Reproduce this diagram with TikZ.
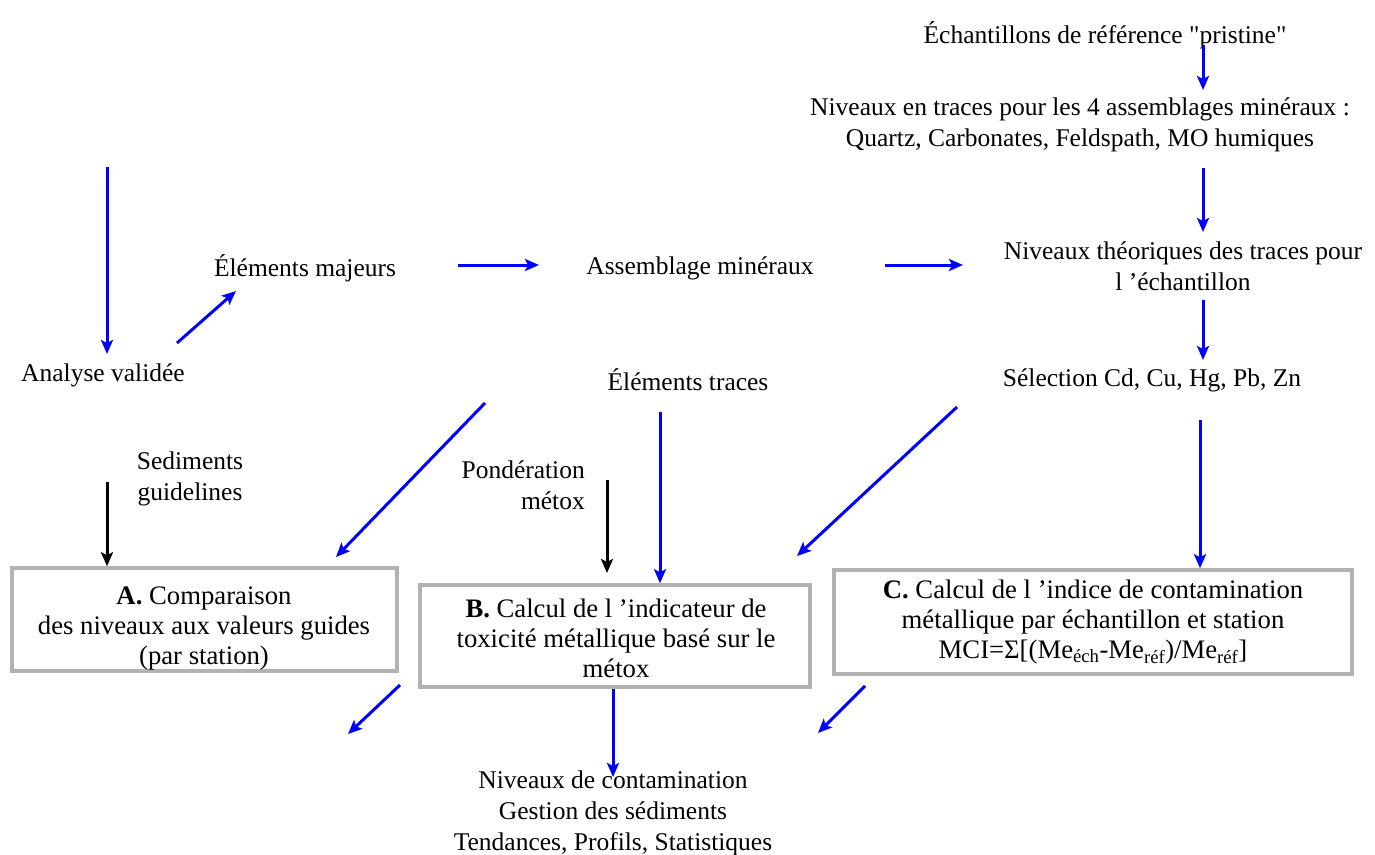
\documentclass[tikz,border=0pt]{standalone}
\usepackage{fontspec}
\setmainfont{Liberation Serif}[Ligatures=TeXOff]
\usetikzlibrary{arrows.meta}
\definecolor{boxgray}{RGB}{178,178,178}
\definecolor{flowblue}{RGB}{0,0,255}
\begin{document}
\begin{tikzpicture}[x=1pt,y=-1pt,
  lbl/.style={inner sep=0pt, align=center, font=\fontsize{25.5}{31}\selectfont},
  boxtext/.style={inner sep=0pt, align=center, font=\fontsize{26.7}{30}\selectfont},
  stagebox/.style={draw=boxgray, line width=3.5pt, inner sep=0pt},
  flow/.style={draw=flowblue, line width=3pt,
    -{Stealth[length=14pt,width=12pt,inset=3pt]}},
  input/.style={draw=black, line width=3pt,
    -{Stealth[length=14pt,width=12pt,inset=3pt]}}
]
\useasboundingbox (0,0) rectangle (1375,854);

% ---- text nodes
\node[lbl] (ech) at (1105,35) {Échantillons de référence "pristine"};
\node[lbl] (niv4) at (1080,125) {Niveaux en traces pour les 4 assemblages minéraux :\\Quartz, Carbonates, Feldspath, MO humiques};
\node[lbl] (nivth) at (1183,266) {Niveaux théoriques des traces pour\\l ’échantillon};
\node[lbl] (sel) at (1152,380) {Sélection Cd, Cu, Hg, Pb, Zn};
\node[lbl] (ana) at (103,375) {Analyse validée};
\node[lbl] (maj) at (305,268) {Éléments majeurs};
\node[lbl] (ass) at (700,268) {Assemblage minéraux};
\node[lbl] (tra) at (688,380) {Éléments traces};
\node[lbl] (sed) at (190,479) {Sediments\\guidelines};
\node[lbl, align=right, anchor=east] (pond) at (585,485) {Pondération\\métox};
\node[lbl] (res) at (613,813) {Niveaux de contamination\\Gestion des sédiments\\Tendances, Profils, Statistiques};

% ---- stage boxes and their texts
\node[stagebox, minimum width=385pt, minimum height=103pt] (boxA) at (204.5,619.5) {};
\node[stagebox, minimum width=390pt, minimum height=102pt] (boxB) at (615,636) {};
\node[stagebox, minimum width=518pt, minimum height=104pt] (boxC) at (1093,622) {};
\node[boxtext] (txtA) at (204,628)
  {\textbf{A.} Comparaison\\des niveaux aux valeurs guides\\(par station)};
\node[boxtext] (txtB) at (616,638)
  {\textbf{B.} Calcul de l ’indicateur de\\toxicité métallique basé sur le\\métox};
\node[boxtext] (txtC) at (1093,622)
  {\textbf{C.} Calcul de l ’indice de contamination\\métallique par échantillon et station\\MCI=Σ[(Me\textsubscript{éch}-Me\textsubscript{réf})/Me\textsubscript{réf}]};

% ---- arrow end points
\coordinate (e1) at (1203,45);  \coordinate (e2) at (1203,90);
\coordinate (e3) at (1203,168); \coordinate (e4) at (1203,232);
\coordinate (e5) at (1203,300); \coordinate (e6) at (1203,360);
\coordinate (e7) at (1200,420);
\coordinate (e8) at (957,407);  \coordinate (e9) at (797,556);
\coordinate (f1) at (107,167);  \coordinate (f2) at (107,354);
\coordinate (f3) at (177,343);  \coordinate (f4) at (236,291);
\coordinate (f5) at (458,265);  \coordinate (f6) at (539,265);
\coordinate (f7) at (885,265);  \coordinate (f8) at (963,265);
\coordinate (g1) at (660,412);
\coordinate (g2) at (485,403);  \coordinate (g3) at (336,557);
\coordinate (h1) at (107,482);
\coordinate (h2) at (607,480);  \coordinate (h3) at (607,573);
\coordinate (k1) at (400,685);  \coordinate (k2) at (348,734);
\coordinate (k3) at (613,777);
\coordinate (k4) at (865,686);  \coordinate (k5) at (818,733);

% ---- connectors
\draw[flow] (e1) -- (e2);
\draw[flow] (e3) -- (e4);
\draw[flow] (e5) -- (e6);
\draw[flow] (e7) -- (e7 |- boxC.north);
\draw[flow] (e8) -- (e9);
\draw[flow] (f1) -- (f2);
\draw[flow] (f3) -- (f4);
\draw[flow] (f5) -- (f6);
\draw[flow] (f7) -- (f8);
\draw[flow] (g1) -- (g1 |- boxB.north);
\draw[flow] (g2) -- (g3);
\draw[input] (h1) -- (h1 |- boxA.north);
\draw[input] (h2) -- (h3);
\draw[flow] (k1) -- (k2);
\draw[flow] (k3 |- boxB.south) -- (k3);
\draw[flow] (k4) -- (k5);
\end{tikzpicture}
\end{document}
